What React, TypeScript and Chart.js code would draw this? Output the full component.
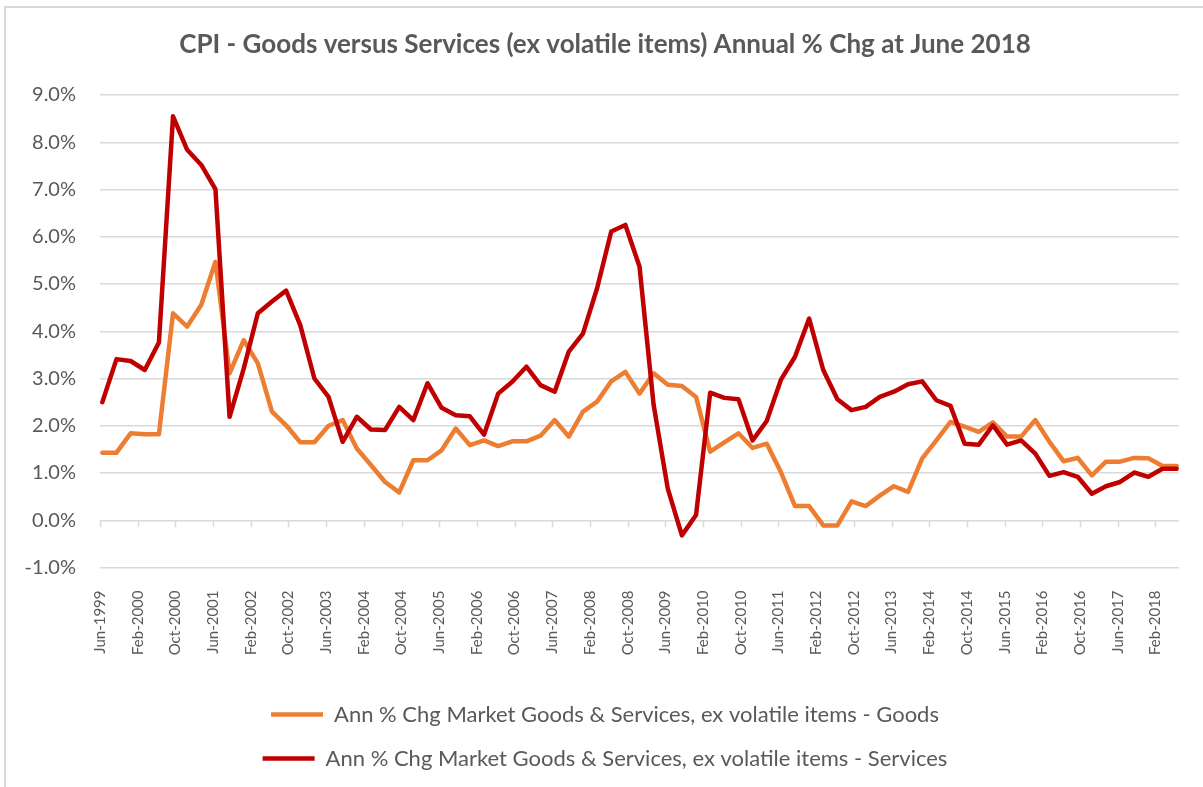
import React, { useEffect, useRef } from 'react';
import { Chart, registerables } from 'chart.js';

Chart.register(...registerables);

// Quarterly observations, Jun-1999 .. Jun-2018 (77 quarters)
const goodsValues = [
  1.43, 1.43, 1.84, 1.82, 1.82, 4.38, 4.10, 4.56, 5.47, 3.11,
  3.81, 3.32, 2.30, 2.01, 1.65, 1.65, 2.00, 2.12, 1.52, 1.17,
  0.81, 0.59, 1.27, 1.27, 1.48, 1.94, 1.59, 1.69, 1.57, 1.67,
  1.67, 1.79, 2.12, 1.77, 2.30, 2.51, 2.94, 3.14, 2.68, 3.11,
  2.87, 2.84, 2.61, 1.45, 1.65, 1.84, 1.53, 1.62, 1.02, 0.30,
  0.30, -0.11, -0.11, 0.40, 0.30, 0.52, 0.72, 0.60, 1.31, 1.69,
  2.08, 1.98, 1.87, 2.07, 1.77, 1.77, 2.12, 1.66, 1.25, 1.32,
  0.95, 1.24, 1.24, 1.32, 1.31, 1.15, 1.15,
];

const servicesValues = [
  2.50, 3.41, 3.37, 3.18, 3.76, 8.55, 7.84, 7.52, 7.01, 2.19,
  3.21, 4.38, 4.63, 4.86, 4.13, 3.00, 2.61, 1.66, 2.19, 1.92,
  1.91, 2.40, 2.12, 2.90, 2.38, 2.22, 2.20, 1.81, 2.68, 2.93,
  3.25, 2.86, 2.72, 3.57, 3.95, 4.91, 6.11, 6.25, 5.37, 2.44,
  0.67, -0.32, 0.11, 2.70, 2.59, 2.56, 1.69, 2.10, 2.97, 3.46,
  4.27, 3.18, 2.56, 2.33, 2.40, 2.61, 2.72, 2.88, 2.94, 2.54,
  2.42, 1.62, 1.60, 2.01, 1.60, 1.69, 1.41, 0.94, 1.02, 0.92,
  0.56, 0.72, 0.81, 1.01, 0.92, 1.09, 1.09,
];

const xTickLabels = [
  'Jun-1999', 'Feb-2000', 'Oct-2000', 'Jun-2001', 'Feb-2002', 'Oct-2002',
  'Jun-2003', 'Feb-2004', 'Oct-2004', 'Jun-2005', 'Feb-2006', 'Oct-2006',
  'Jun-2007', 'Feb-2008', 'Oct-2008', 'Jun-2009', 'Feb-2010', 'Oct-2010',
  'Jun-2011', 'Feb-2012', 'Oct-2012', 'Jun-2013', 'Feb-2014', 'Oct-2014',
  'Jun-2015', 'Feb-2016', 'Oct-2016', 'Jun-2017', 'Feb-2018',
];
const monthsPerTick = 8;
const monthsPerQuarter = 3;
const axisMonths = 229; // Jun-1999 .. end of Jun-2018

const yTicks = [-1, 0, 1, 2, 3, 4, 5, 6, 7, 8, 9];

const seriesNames = [
  'Ann % Chg Market Goods & Services, ex volatile items - Goods',
  'Ann % Chg Market Goods & Services, ex volatile items - Services',
];
const seriesColors = ['#ED7D31', '#C00000'];
const seriesDrawOrder = [1, 0]; // Services drawn on top
const titleText = 'CPI - Goods versus Services (ex volatile items) Annual % Chg at June 2018';

const TEXT = '#595959';
const GRID = '#d9d9d9';
const FONT = 'Lato, "Open Sans", sans-serif';

const toPoints = (vals: number[]) =>
  vals.map((v, i) => ({ x: i * monthsPerQuarter + 0.5, y: v }));

const zeroAxisTicks = {
  id: 'zeroAxisTicks',
  afterLayout(chart: any) {
    // let the y labels extend into the left padding without being clipped
    if (chart.scales.y) chart.scales.y.left = 0;
  },
  beforeDatasetsDraw(chart: any) {
    const { ctx, scales } = chart;
    const xs = scales.x;
    const ys = scales.y;
    const y0 = ys.getPixelForValue(0);
    ctx.save();
    ctx.strokeStyle = GRID;
    ctx.lineWidth = 1.5;
    xs.ticks.forEach((t: any) => {
      const px = Math.round(xs.getPixelForValue(t.value)) + 0.5;
      ctx.beginPath();
      ctx.moveTo(px, y0);
      ctx.lineTo(px, y0 + 7);
      ctx.stroke();
    });
    ctx.restore();
  },
};

export default function App() {
  const canvasRef = useRef<HTMLCanvasElement | null>(null);

  useEffect(() => {
    if (!canvasRef.current) return;
    const chart = new Chart(canvasRef.current, {
      type: 'line',
      data: {
        datasets: [goodsValues, servicesValues].map((vals, i) => ({
          label: seriesNames[i],
          data: toPoints(vals),
          order: seriesDrawOrder[i],
          borderColor: seriesColors[i],
          backgroundColor: seriesColors[i],
          borderWidth: 4.5,
          borderCapStyle: 'round',
          borderJoinStyle: 'round',
          pointRadius: 0,
          pointHoverRadius: 0,
          tension: 0,
          fill: false,
        })),
      },
      options: {
        responsive: false,
        animation: false,
        devicePixelRatio: 1,
        layout: { padding: { left: 31, right: 24, top: 0, bottom: 7.5 } },
        plugins: {
          title: {
            display: true,
            text: titleText,
            color: TEXT,
            font: { family: FONT, size: 26, weight: 'bold', lineHeight: 1.2 },
            padding: { top: 29, bottom: 34.8 },
          },
          legend: {
            position: 'bottom',
            labels: {
              color: TEXT,
              font: { family: FONT, size: 22 },
              usePointStyle: true,
              pointStyle: 'line',
              pointStyleWidth: 52,
              padding: 22,
              sort: (a: any, b: any) => a.datasetIndex - b.datasetIndex,
            },
          },
          tooltip: { enabled: false },
        },
        scales: {
          x: {
            type: 'linear',
            min: 0,
            max: axisMonths,
            afterBuildTicks: (scale: any) => {
              scale.ticks = xTickLabels.map((_, i) => ({ value: i * monthsPerTick }));
            },
            afterFit: (scale: any) => {
              scale.height = 114;
            },
            grid: { display: false },
            border: { display: false },
            ticks: {
              autoSkip: false,
              minRotation: 90,
              maxRotation: 90,
              padding: 15,
              color: TEXT,
              font: { family: FONT, size: 15 },
              callback: (_v: any, i: number) => xTickLabels[i],
            },
          },
          y: {
            min: yTicks[0],
            max: yTicks[yTicks.length - 1],
            afterBuildTicks: (scale: any) => {
              scale.ticks = yTicks.map((v) => ({ value: v }));
            },
            afterFit: (scale: any) => {
              scale.width = 69;
            },
            grid: { color: GRID, lineWidth: 1.5, drawTicks: false },
            border: { display: false },
            ticks: {
              padding: 24,
              color: TEXT,
              font: { family: FONT, size: 20 },
              callback: (v: any) => Number(v).toFixed(1) + '%',
            },
          },
        },
      },
      plugins: [zeroAxisTicks],
    } as any);
    return () => chart.destroy();
  }, []);

  return (
    <div
      style={{
        position: 'fixed',
        left: 0,
        top: 0,
        width: 1203,
        height: 787,
        background: '#ffffff',
        overflow: 'hidden',
      }}
    >
      <canvas ref={canvasRef} width={1203} height={787} style={{ display: 'block' }} />
      <div
        style={{
          position: 'absolute',
          left: 4,
          top: 6,
          width: 1300,
          height: 900,
          borderLeft: `2px solid ${GRID}`,
          borderTop: `2px solid ${GRID}`,
          pointerEvents: 'none',
        }}
      />
    </div>
  );
}
